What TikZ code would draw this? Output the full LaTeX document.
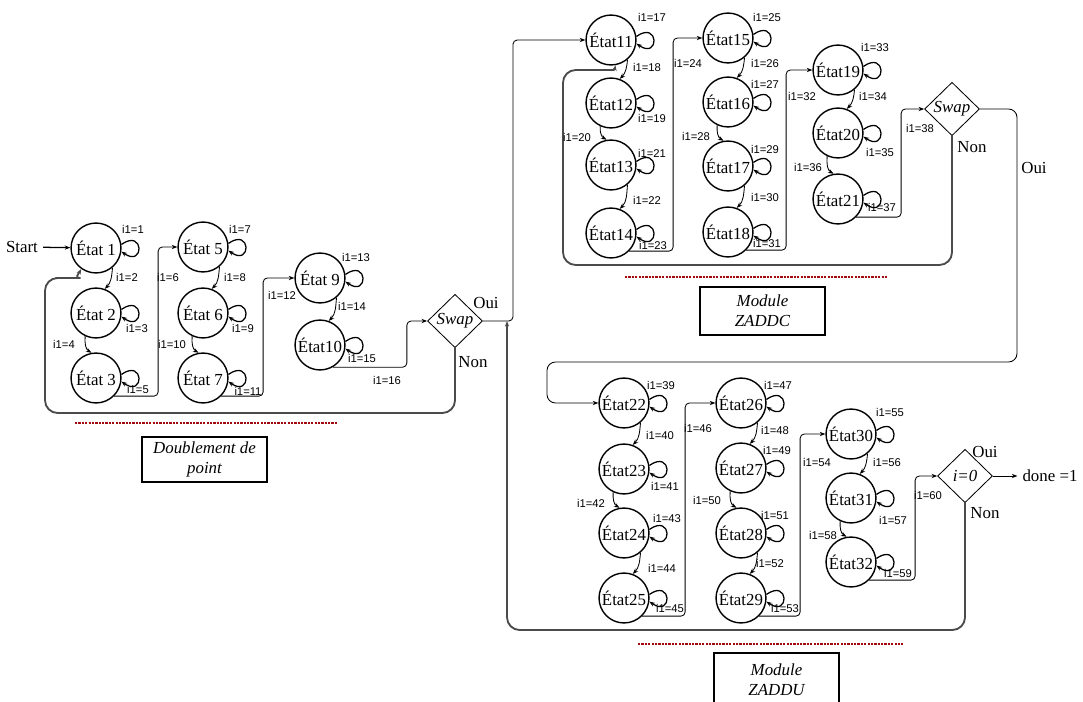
\documentclass[tikz,border=0pt]{standalone}
\usepackage{fontspec}
\setmainfont{Liberation Serif}
\newfontfamily\lblfont{Liberation Sans}
\usetikzlibrary{arrows.meta,shapes.geometric,positioning}
\definecolor{dotred}{RGB}{160,10,15}
\definecolor{backgray}{RGB}{75,75,75}
\tikzset{every picture/.style={line width=0.6pt}}
\tikzset{
  etat/.style={circle,draw,line width=1pt,minimum size=35.5pt,inner sep=0pt,font=\fontsize{12}{14}\selectfont},
  choix/.style={diamond,draw,minimum width=39pt,minimum height=38pt,inner sep=0pt,font=\fontsize{12}{14}\selectfont\itshape},
  lbl/.style={font=\lblfont\fontsize{8}{9}\selectfont,inner sep=0pt},
  txt/.style={font=\fontsize{12}{14}\selectfont},
  fl/.style={-{Stealth[length=4pt,width=3pt]}},
  boucle/.style={fl,line width=0.9pt},
  saut/.style={fl,rounded corners=3pt},
  retour/.style={fl,draw=backgray,line width=1.3pt,rounded corners=9pt},
  sep/.style={draw=dotred,line width=1.8pt,dash pattern=on 1.6pt off 0.8pt},
  module/.style={draw,line width=1pt,align=center,minimum width=89pt,font=\fontsize{12}{14}\selectfont\itshape}
}

\begin{document}
\begin{tikzpicture}[x=0.025cm,y=-0.025cm]
    \useasboundingbox (0,0) rectangle (1083,702);
    % Doublement de point
    \node[txt] (start) at (22,247) {Start};
    \node[etat] (s1) at (96,248) {État 1};
    \node[etat] (s2) at (96,313) {État 2};
    \node[etat] (s3) at (96,378) {État 3};
    \node[etat] (s5) at (203,247) {État 5};
    \node[etat] (s6) at (203,313) {État 6};
    \node[etat] (s7) at (203,378) {État 7};
    \node[etat] (s9) at (320,278) {État 9};
    \node[etat] (s10) at (320,345) {État10};
    \node[choix] (sw1) at (455,321) {Swap};
    % Module ZADDC
    \node[etat] (s11) at (611,40) {État11};
    \node[etat] (s12) at (611,103) {État12};
    \node[etat] (s13) at (611,165) {État13};
    \node[etat] (s14) at (611,233) {État14};
    \node[etat] (s15) at (728,38) {État15};
    \node[etat] (s16) at (728,102) {État16};
    \node[etat] (s17) at (728,166) {État17};
    \node[etat] (s18) at (728,232) {État18};
    \node[etat] (s19) at (838,70) {État19};
    \node[etat] (s20) at (838,133) {État20};
    \node[etat] (s21) at (838,199) {État21};
    \node[choix] (sw2) at (952,109) {Swap};
    % Module ZADDU
    \node[etat] (s22) at (624,403) {État22};
    \node[etat] (s23) at (624,469) {État23};
    \node[etat] (s24) at (624,533) {État24};
    \node[etat] (s25) at (624,598) {État25};
    \node[etat] (s26) at (741,403) {État26};
    \node[etat] (s27) at (741,468) {État27};
    \node[etat] (s28) at (741,533) {État28};
    \node[etat] (s29) at (741,598) {État29};
    \node[etat] (s30) at (851,434) {État30};
    \node[etat] (s31) at (851,498) {État31};
    \node[etat] (s32) at (851,562) {État32};
    \node[choix] (iz) at (965,476) {i=0};
    \node[txt] (done) at (1050,476) {done =1};
    \coordinate (jonction) at (507,321);

    % boucles
    \foreach \s in {s1,s2,s3,s5,s6,s7,s9,s10,s11,s12,s13,s14,s15,s16,s17,s18,s19,s20,s21,
                    s22,s23,s24,s25,s26,s27,s28,s29,s30,s31,s32}
        \draw[boucle] (\s.8) .. controls +(35:20pt) and +(-35:20pt) .. (\s.-8);

    % transitions verticales
    \draw[fl] (s1.-50) to[out=-95,in=45] (s2.70);
    \draw[fl] (s2.245) to[out=-95,in=150] (s3.100);
    \draw[fl] (s5.-50) to[out=-95,in=45] (s6.70);
    \draw[fl] (s6.245) to[out=-95,in=150] (s7.100);
    \draw[fl] (s9.-50) to[out=-95,in=45] (s10.70);
    \draw[fl] (s11.-50) to[out=-95,in=45] (s12.70);
    \draw[fl] (s12.245) to[out=-95,in=150] (s13.100);
    \draw[fl] (s13.-50) to[out=-95,in=45] (s14.70);
    \draw[fl] (s15.-50) to[out=-95,in=45] (s16.70);
    \draw[fl] (s16.245) to[out=-95,in=150] (s17.100);
    \draw[fl] (s17.-50) to[out=-95,in=45] (s18.70);
    \draw[fl] (s19.-50) to[out=-95,in=45] (s20.70);
    \draw[fl] (s20.245) to[out=-95,in=150] (s21.100);
    \draw[fl] (s22.-50) to[out=-95,in=45] (s23.70);
    \draw[fl] (s23.245) to[out=-95,in=150] (s24.100);
    \draw[fl] (s24.-50) to[out=-95,in=45] (s25.70);
    \draw[fl] (s26.-50) to[out=-95,in=45] (s27.70);
    \draw[fl] (s27.245) to[out=-95,in=150] (s28.100);
    \draw[fl] (s28.-50) to[out=-95,in=45] (s29.70);
    \draw[fl] (s30.-50) to[out=-95,in=45] (s31.70);
    \draw[fl] (s31.245) to[out=-95,in=150] (s32.100);

    % sauts entre colonnes
    \draw[fl,line width=0.9pt] (start) -- (s1);
    \draw[saut] (s3.-45) -- ++(44,0) |- (s5.west);
    \draw[saut] (s7.-45) -- ++(42,0) |- (s9.west);
    \draw[saut] (s10.-60) -- ++(74,0) |- (sw1.west);
    \draw[saut] (s14.-45) -- ++(44,0) |- (s15.west);
    \draw[saut] (s18.-45) -- ++(40,0) |- (s19.west);
    \draw[saut] (s21.-45) -- ++(45,0) |- (sw2.west);
    \draw[saut] (s25.-45) -- ++(43,0) |- (s26.west);
    \draw[saut] (s29.-45) -- ++(41,0) |- (s30.west);
    \draw[saut] (s32.-45) -- ++(46,0) |- (iz.west);

    % Oui / Non
    \draw[saut] (sw1.east) -- (513,321) |- (s11.west);
    \draw[saut,rounded corners=6pt] (sw2.east) -- (1017,109) -- (1017,362) -- (547,362) |- (s22.west);
    \draw[fl] (iz.east) -- (done.west);
    \draw[retour] (sw1.south) -- (455,413) -- (45,413) -- (45,278) -- (68,278) to[out=0,in=-120] (s1.235);
    \draw[retour] (sw2.south) -- (952,265) -- (563,265) -- (563,70) -- (602,70) to[out=0,in=-100] (s11.-80);
    \draw[retour] (iz.south) -- (965,630) -- (507,630) -- (jonction);
    \node[txt] (oui1) at (486,303) {Oui};
    \node[txt] (non1) at (473,362) {Non};
    \node[txt] (non2) at (972,147) {Non};
    \node[txt] (oui2) at (1034,168) {Oui};
    \node[txt] (oui3) at (985,452) {Oui};
    \node[txt] (non3) at (985,513) {Non};

    % etiquettes
    \node[lbl] at (133,229) {i1=1};
    \node[lbl] at (127,277) {i1=2};
    \node[lbl] at (137,328) {i1=3};
    \node[lbl] at (64,344) {i1=4};
    \node[lbl] at (138,389) {i1=5};
    \node[lbl] at (168,277) {i1=6};
    \node[lbl] at (240,229) {i1=7};
    \node[lbl] at (235,277) {i1=8};
    \node[lbl] at (243,328) {i1=9};
    \node[lbl] at (172,344) {i1=10};
    \node[lbl] at (248,391) {i1=11};
    \node[lbl] at (282,295) {i1=12};
    \node[lbl] at (356,257) {i1=13};
    \node[lbl] at (352,306) {i1=14};
    \node[lbl] at (362,358) {i1=15};
    \node[lbl] at (387,380) {i1=16};
    \node[lbl] at (652,17) {i1=17};
    \node[lbl] at (647,67) {i1=18};
    \node[lbl] at (652,118) {i1=19};
    \node[lbl] at (577,137) {i1=20};
    \node[lbl] at (652,153) {i1=21};
    \node[lbl] at (647,200) {i1=22};
    \node[lbl] at (653,245) {i1=23};
    \node[lbl] at (688,63) {i1=24};
    \node[lbl] at (767,17) {i1=25};
    \node[lbl] at (765,63) {i1=26};
    \node[lbl] at (765,84) {i1=27};
    \node[lbl] at (696,136) {i1=28};
    \node[lbl] at (765,149) {i1=29};
    \node[lbl] at (765,197) {i1=30};
    \node[lbl] at (767,243) {i1=31};
    \node[lbl] at (802,96) {i1=32};
    \node[lbl] at (875,47) {i1=33};
    \node[lbl] at (873,96) {i1=34};
    \node[lbl] at (880,152) {i1=35};
    \node[lbl] at (808,167) {i1=36};
    \node[lbl] at (882,207) {i1=37};
    \node[lbl] at (920,128) {i1=38};
    \node[lbl] at (661,385) {i1=39};
    \node[lbl] at (660,435) {i1=40};
    \node[lbl] at (665,486) {i1=41};
    \node[lbl] at (591,503) {i1=42};
    \node[lbl] at (667,518) {i1=43};
    \node[lbl] at (662,568) {i1=44};
    \node[lbl] at (670,608) {i1=45};
    \node[lbl] at (698,428) {i1=46};
    \node[lbl] at (778,385) {i1=47};
    \node[lbl] at (775,430) {i1=48};
    \node[lbl] at (777,450) {i1=49};
    \node[lbl] at (707,500) {i1=50};
    \node[lbl] at (775,515) {i1=51};
    \node[lbl] at (770,563) {i1=52};
    \node[lbl] at (785,608) {i1=53};
    \node[lbl] at (817,462) {i1=54};
    \node[lbl] at (890,412) {i1=55};
    \node[lbl] at (887,462) {i1=56};
    \node[lbl] at (893,520) {i1=57};
    \node[lbl] at (823,535) {i1=58};
    \node[lbl] at (898,573) {i1=59};
    \node[lbl] at (928,495) {i1=60};

    % modules
    \draw[sep] (75,423) -- (338,423);
    \draw[sep] (625,277) -- (888,277);
    \draw[sep] (638,644) -- (903,644);
    \node[module,minimum height=32pt] (mdbl) at (204.5,459.5) {Doublement de\\point};
    \node[module,minimum height=34pt] (mzc) at (762.5,311) {Module\\ZADDC};
    \node[module,minimum height=37.7pt] (mzu) at (776.5,679.5) {Module\\ZADDU};
\end{tikzpicture}
\end{document}
